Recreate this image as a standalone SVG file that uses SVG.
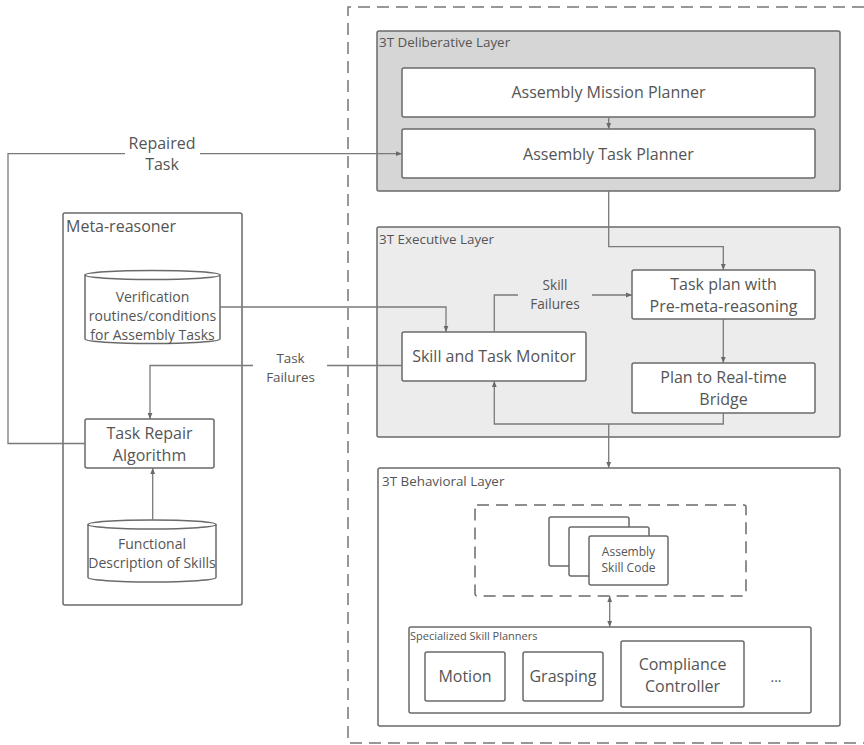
<svg xmlns="http://www.w3.org/2000/svg" width="864" height="745" viewBox="0 0 864 745">
<defs>
<marker id="ah" viewBox="0 0 10 10" refX="10" refY="5" markerWidth="6" markerHeight="6" orient="auto-start-reverse" markerUnits="userSpaceOnUse">
<path d="M0,1 L10,5 L0,9 Z" fill="#6a6a6a"/>
</marker>
<style>
.box{fill:#fff;stroke:#6a6a6a;stroke-width:1.5}
.conn{fill:none;stroke:#7a7a7a;stroke-width:1.3}
.t{font-family:"Open Sans","Liberation Sans",sans-serif;fill:#555;text-anchor:middle}
.lbl{font-family:"Open Sans","Liberation Sans",sans-serif;fill:#555}
.dash{fill:none;stroke:#777;stroke-width:1.5;stroke-dasharray:12 7}
</style>
</defs>
<rect width="864" height="745" fill="#fff"/>

<path id="frame" class="dash" d="M864,7 H348 V743 H864"/>

<g id="deliberative">
<rect x="377" y="31" width="463" height="160" rx="2" fill="#d6d6d6" stroke="#6a6a6a" stroke-width="1.5"/>
<text class="lbl" x="379" y="47" font-size="13.4">3T Deliberative Layer</text>
</g>
<g id="mission-planner">
<rect class="box" x="402" y="68" width="413" height="49" rx="2"/>
<text class="t" x="608.5" y="98" font-size="16">Assembly Mission Planner</text>
</g>
<g id="task-planner">
<rect class="box" x="402" y="129" width="413" height="49" rx="2"/>
<text class="t" x="608.5" y="160" font-size="16">Assembly Task Planner</text>
</g>

<g id="executive">
<rect x="377" y="227" width="463" height="210" rx="2" fill="#ececec" stroke="#6a6a6a" stroke-width="1.5"/>
<text class="lbl" x="379" y="244" font-size="13.4">3T Executive Layer</text>
</g>
<g id="task-plan">
<rect class="box" x="632" y="270" width="183" height="49" rx="2"/>
<text class="t" x="723.5" y="290" font-size="16">Task plan with</text>
<text class="t" x="723.5" y="312" font-size="16">Pre-meta-reasoning</text>
</g>
<g id="bridge">
<rect class="box" x="632" y="363" width="183" height="50" rx="2"/>
<text class="t" x="723.5" y="383" font-size="16">Plan to Real-time</text>
<text class="t" x="723.5" y="405" font-size="16">Bridge</text>
</g>
<g id="monitor">
<rect class="box" x="402" y="332" width="184" height="49" rx="2"/>
<text class="t" x="494" y="362" font-size="16">Skill and Task Monitor</text>
</g>

<g id="behavioral">
<rect x="378" y="468" width="462" height="258" rx="2" fill="#fff" stroke="#6a6a6a" stroke-width="1.5"/>
<text class="lbl" x="382" y="486" font-size="13.4">3T Behavioral Layer</text>
</g>
<g id="skill-code">
<rect x="475" y="505" width="271" height="91" rx="2" fill="none" stroke="#6a6a6a" stroke-width="1.5" stroke-dasharray="12 7"/>
<rect class="box" x="549" y="517" width="80" height="49" rx="2"/>
<rect class="box" x="569" y="527" width="80" height="49" rx="2"/>
<rect class="box" x="589" y="536" width="79" height="49" rx="2"/>
<text class="t" x="628.5" y="556" font-size="12">Assembly</text>
<text class="t" x="628.5" y="572" font-size="12">Skill Code</text>
</g>
<g id="skill-planners">
<rect class="box" x="409" y="627" width="402" height="86" rx="2"/>
<text class="lbl" x="410" y="640" font-size="11">Specialized Skill Planners</text>
</g>
<g id="motion">
<rect class="box" x="425" y="652" width="80" height="49" rx="2"/>
<text class="t" x="465" y="682" font-size="16">Motion</text>
</g>
<g id="grasping">
<rect class="box" x="523" y="652" width="80" height="49" rx="2"/>
<text class="t" x="563" y="682" font-size="16">Grasping</text>
</g>
<g id="compliance">
<rect class="box" x="621" y="641" width="123" height="66" rx="2"/>
<text class="t" x="682.5" y="670" font-size="16">Compliance</text>
<text class="t" x="682.5" y="692" font-size="16">Controller</text>
</g>
<g id="more">
<text class="t" x="776" y="682" font-size="14">...</text>
</g>

<g id="meta-reasoner">
<rect class="box" x="63" y="213" width="179" height="392" rx="2"/>
<text class="lbl" x="66" y="232" font-size="16">Meta-reasoner</text>
</g>
<g id="verification">
<path class="box" d="M85,275 A67.5,4.5 0 0 1 220,275 L220,339 A67.5,4.5 0 0 1 85,339 Z"/>
<path d="M85,275 A67.5,4.5 0 0 0 220,275" fill="none" stroke="#6a6a6a" stroke-width="1.5"/>
<text class="t" x="152.5" y="302" font-size="14">Verification</text>
<text class="t" x="152.5" y="321" font-size="14">routines/conditions</text>
<text class="t" x="152.5" y="340" font-size="14">for Assembly Tasks</text>
</g>
<g id="task-repair">
<rect class="box" x="85" y="419" width="129" height="49" rx="2"/>
<text class="t" x="149.5" y="439" font-size="16">Task Repair</text>
<text class="t" x="149.5" y="461" font-size="16">Algorithm</text>
</g>
<g id="functional">
<path class="box" d="M88,524.5 A64,4.5 0 0 1 216,524.5 L216,577.5 A64,4.5 0 0 1 88,577.5 Z"/>
<path d="M88,524.5 A64,4.5 0 0 0 216,524.5" fill="none" stroke="#6a6a6a" stroke-width="1.5"/>
<text class="t" x="152" y="549" font-size="14">Functional</text>
<text class="t" x="152" y="568" font-size="14">Description of Skills</text>
</g>

<g id="connectors">
<path class="conn" d="M608.7,117 V129" marker-end="url(#ah)"/>
<path class="conn" d="M608.7,191 V246.7 H723.3 V270" marker-end="url(#ah)"/>
<path class="conn" d="M723.3,319 V363" marker-end="url(#ah)"/>
<path class="conn" d="M494.3,332 V295 H518"/>
<path class="conn" d="M592,295 H632" marker-end="url(#ah)"/>
<text class="t" x="555" y="290" font-size="13.6">Skill</text>
<text class="t" x="555" y="309" font-size="13.6">Failures</text>
<path class="conn" d="M723.3,413 V424 H494.3 V381" marker-end="url(#ah)"/>
<path class="conn" d="M608.7,424 V468" marker-end="url(#ah)"/>
<path class="conn" d="M609.7,596 V627" marker-start="url(#ah)" marker-end="url(#ah)"/>
<path class="conn" d="M220,307 H446 V332" marker-end="url(#ah)"/>
<path class="conn" d="M402,365.5 H327"/>
<path class="conn" d="M253,365.5 H150 V419" marker-end="url(#ah)"/>
<text class="t" x="290.5" y="363" font-size="13.4">Task</text>
<text class="t" x="290.5" y="382" font-size="13.4">Failures</text>
<path class="conn" d="M152.7,520 V468" marker-end="url(#ah)"/>
<path class="conn" d="M85,443.5 H8 V153.7 H125"/>
<path class="conn" d="M200,153.7 H402" marker-end="url(#ah)"/>
<text class="t" x="162" y="149" font-size="16">Repaired</text>
<text class="t" x="162" y="170" font-size="16">Task</text>
</g>
</svg>
